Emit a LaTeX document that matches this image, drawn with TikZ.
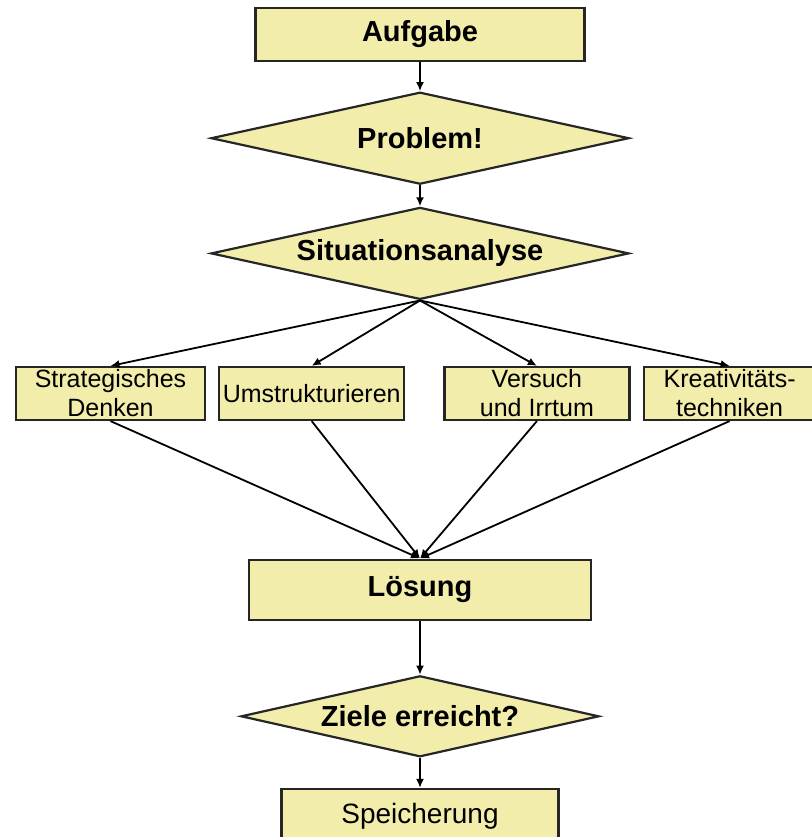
\documentclass[tikz,border=0pt]{standalone}
\usepackage{fontspec}
\setmainfont{Liberation Sans}
\usetikzlibrary{arrows.meta,positioning,shapes.geometric}
\definecolor{gelb}{RGB}{242,237,170}

\begin{document}
\begin{tikzpicture}[x=1pt, y=-1pt,
            every node/.style={draw=black!85, fill=gelb, line width=2.2pt, inner sep=0pt},
            kasten/.style={rectangle, font=\bfseries\fontsize{29}{33}\selectfont},
            raute/.style={diamond, aspect=4.5, font=\bfseries\fontsize{29}{33}\selectfont},
            klein/.style={rectangle, minimum height=53pt, align=center, inner xsep=2pt,
                          font=\fontsize{25}{29}\selectfont},
            pfeil/.style={-{Latex[length=9pt,width=8pt]}, line width=1.8pt}]
            \useasboundingbox (0,0) rectangle (811,837);
            \node[kasten, minimum width=329pt, minimum height=53pt] (aufgabe) at (420,34.5) {Aufgabe};
            \node[raute, minimum width=418pt, minimum height=92pt] (problem) [below=29pt of aufgabe] {Problem!};
            \node[raute, minimum width=418pt, minimum height=92pt] (situation) [below=21pt of problem] {Situationsanalyse};
            \node[klein, minimum width=189pt] (strategie) at (110.5,393.5) {Strategisches\\Denken};
            \node[klein, minimum width=185pt] (umstruk)   [right=12pt of strategie] {Umstrukturieren};
            \node[klein, minimum width=185pt] (versuch)   [right=38pt of umstruk] {Versuch\\und Irrtum};
            \node[klein, minimum width=172pt] (kreativ)   [right=12pt of versuch] {Kreativitäts-\\techniken};
            \node[kasten, minimum width=342pt, minimum height=60pt] (loesung) [below=258pt of situation] {Lösung};
            \node[raute, aspect=4.4, minimum width=358pt, minimum height=81pt] (ziele) [below=54pt of loesung] {Ziele erreicht?};
            \node[kasten, minimum width=277pt, minimum height=55pt, font=\fontsize{28}{32}\selectfont]
                        (speicherung) [below=30pt of ziele] {Speicherung};
            \draw[pfeil] (aufgabe) -- (problem);
            \draw[pfeil] (problem) -- (situation);
            \foreach \z in {strategie,umstruk,versuch,kreativ}
                \draw[pfeil] (situation.south) -- (\z.north);
            \foreach \z in {strategie,umstruk,versuch,kreativ}
                \draw[pfeil] (\z.south) -- (loesung.north);
            \draw[pfeil] (loesung) -- (ziele);
            \draw[pfeil] (ziele) -- (speicherung);
        \end{tikzpicture}
\end{document}
